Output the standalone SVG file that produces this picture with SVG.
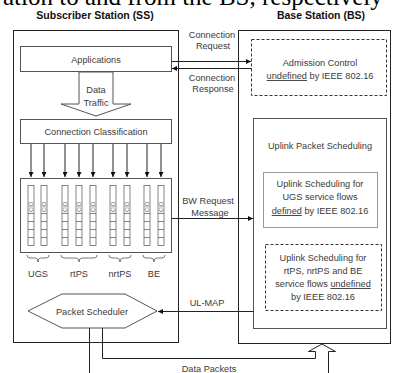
<svg xmlns="http://www.w3.org/2000/svg" width="393" height="373" viewBox="0 0 393 373">
<style>
.t{font-family:"Liberation Sans",Arial,sans-serif;font-size:9.2px;fill:#3a3a3a;text-anchor:middle}
.h{font-family:"Liberation Sans",Arial,sans-serif;font-size:10.5px;font-weight:bold;fill:#111;text-anchor:middle}
.frame{fill:none;stroke:#222;stroke-width:1}
.box{fill:#fff;stroke:#555;stroke-width:1}
.dash{fill:#fff;stroke:#333;stroke-width:1;stroke-dasharray:3,2}
.ln{fill:none;stroke:#222;stroke-width:1}
.q{fill:#fff;stroke:#666;stroke-width:0.8}
.cid{font-family:"Liberation Sans",Arial,sans-serif;font-size:6px;fill:#666}
</style>
<defs>
<marker id="ah" viewBox="0 0 6 6" refX="6" refY="3" markerWidth="5" markerHeight="5" orient="auto" markerUnits="userSpaceOnUse">
<path d="M0,0 L6,3 L0,6 z" fill="#111"/>
</marker>
</defs>
<rect width="393" height="373" fill="#fff"/>
<text x="3" y="5" style="font-family:'Liberation Serif','Times New Roman',serif;font-size:25px;fill:#000">ation to and from the BS, respectively</text>
<text class="h" x="95" y="19">Subscriber Station (SS)</text>
<text class="h" x="321" y="19">Base Station (BS)</text>

<g id="ss">
<rect class="frame" x="13.5" y="30.5" width="165" height="312"/>
</g>
<g id="bs">
<rect class="frame" x="238.5" y="30.5" width="152" height="313"/>
</g>

<g id="applications">
<rect class="box" x="20.5" y="46.5" width="151" height="25"/>
<text class="t" x="96" y="63">Applications</text>
</g>

<g id="data-traffic">
<polygon class="box" points="79,72 113,72 113,104 131,104 96,116 61,104 79,104"/>
<text class="t" x="96" y="93">Data</text>
<text class="t" x="96" y="106">Traffic</text>
</g>

<g id="classification">
<rect class="box" x="20.5" y="119.5" width="151" height="24"/>
<text class="t" x="96" y="135">Connection Classification</text>
</g>

<g id="queues">
<rect class="box" x="20.5" y="178.5" width="151" height="74"/>
<g id="q1"><rect class="q" x="28" y="185.5" width="6" height="60"/></g>
<g id="q2"><rect class="q" x="41" y="185.5" width="6" height="60"/></g>
<g id="q3"><rect class="q" x="62" y="185.5" width="6" height="60"/></g>
<g id="q4"><rect class="q" x="76" y="185.5" width="6" height="60"/></g>
<g id="q5"><rect class="q" x="90" y="185.5" width="6" height="60"/></g>
<g id="q6"><rect class="q" x="110" y="185.5" width="6" height="60"/></g>
<g id="q7"><rect class="q" x="124" y="185.5" width="6" height="60"/></g>
<g id="q8"><rect class="q" x="144" y="185.5" width="6" height="60"/></g>
<g id="q9"><rect class="q" x="158" y="185.5" width="6" height="60"/></g>
<path class="q" fill="none" d="M28,213.5h6M28,221.5h6M28,229.5h6M28,237.5h6 M41,213.5h6M41,221.5h6M41,229.5h6M41,237.5h6 M62,213.5h6M62,221.5h6M62,229.5h6M62,237.5h6 M76,213.5h6M76,221.5h6M76,229.5h6M76,237.5h6 M90,213.5h6M90,221.5h6M90,229.5h6M90,237.5h6 M110,213.5h6M110,221.5h6M110,229.5h6M110,237.5h6 M124,213.5h6M124,221.5h6M124,229.5h6M124,237.5h6 M144,213.5h6M144,221.5h6M144,229.5h6M144,237.5h6 M158,213.5h6M158,221.5h6M158,229.5h6M158,237.5h6"/>
<text class="cid" transform="translate(33.2,212) rotate(-90)">CID</text>
<text class="cid" transform="translate(46.2,212) rotate(-90)">CID</text>
<text class="cid" transform="translate(67.2,212) rotate(-90)">CID</text>
<text class="cid" transform="translate(81.2,212) rotate(-90)">CID</text>
<text class="cid" transform="translate(95.2,212) rotate(-90)">CID</text>
<text class="cid" transform="translate(115.2,212) rotate(-90)">CID</text>
<text class="cid" transform="translate(129.2,212) rotate(-90)">CID</text>
<text class="cid" transform="translate(149.2,212) rotate(-90)">CID</text>
<text class="cid" transform="translate(163.2,212) rotate(-90)">CID</text>
<path fill="none" stroke="#555" stroke-width="0.8" d="M27,255 q0,3 3,3 h5.5 q2.5,0 2.5,4 q0,-4 2.5,-4 h5.5 q3,0 3,-3 M61,255 q0,3 3,3 h12 q3,0 3,4 q0,-4 3,-4 h12 q3,0 3,-3 M109,255 q0,3 3,3 h5 q3,0 3,4 q0,-4 3,-4 h5 q3,0 3,-3 M143,255 q0,3 3,3 h5 q3,0 3,4 q0,-4 3,-4 h5 q3,0 3,-3"/>
<text class="t" x="38" y="277">UGS</text>
<text class="t" x="79" y="277">rtPS</text>
<text class="t" x="120" y="277">nrtPS</text>
<text class="t" x="154" y="277">BE</text>
</g>

<g id="packet-scheduler">
<polygon class="box" points="28,311 62,294 125,294 157,311 125,328 62,328"/>
<text class="t" x="92" y="315">Packet Scheduler</text>
</g>

<g id="admission">
<rect class="dash" x="251.5" y="39.5" width="135" height="56"/>
<text class="t" x="320" y="66">Admission Control</text>
<text class="t" x="320" y="79"><tspan text-decoration="underline">undefined</tspan> by IEEE 802.16</text>
</g>

<g id="uplink">
<rect class="box" x="253.5" y="118.5" width="133" height="210"/>
<text class="t" x="320" y="149">Uplink Packet Scheduling</text>
</g>

<g id="ugs-sched">
<rect fill="#fff" stroke="#999" stroke-width="1" x="263.5" y="172.5" width="114" height="55"/>
<text class="t" x="320" y="187">Uplink Scheduling for</text>
<text class="t" x="320" y="200">UGS service flows</text>
<text class="t" x="320" y="214"><tspan text-decoration="underline">defined</tspan> by IEEE 802.16</text>
</g>

<g id="other-sched">
<rect class="dash" x="265.5" y="244.5" width="116" height="66"/>
<text class="t" x="323" y="261">Uplink Scheduling for</text>
<text class="t" x="323" y="274">rtPS, nrtPS and BE</text>
<text class="t" x="323" y="287">service flows <tspan text-decoration="underline">undefined</tspan></text>
<text class="t" x="323" y="300">by IEEE 802.16</text>
</g>

<g id="connectors">
<line class="ln" x1="171.5" y1="61.5" x2="251" y2="61.5" marker-end="url(#ah)"/>
<line class="ln" x1="251.5" y1="68.5" x2="172" y2="68.5" marker-end="url(#ah)"/>
<text class="t" x="212" y="38">Connection</text>
<text class="t" x="213" y="49">Request</text>
<text class="t" x="212" y="81">Connection</text>
<text class="t" x="213" y="92">Response</text>
<g stroke="#222" stroke-width="1">
<line x1="31" y1="144" x2="31" y2="177" marker-end="url(#ah)"/>
<line x1="44" y1="144" x2="44" y2="177" marker-end="url(#ah)"/>
<line x1="65" y1="144" x2="65" y2="177" marker-end="url(#ah)"/>
<line x1="79" y1="144" x2="79" y2="177" marker-end="url(#ah)"/>
<line x1="93" y1="144" x2="93" y2="177" marker-end="url(#ah)"/>
<line x1="113" y1="144" x2="113" y2="177" marker-end="url(#ah)"/>
<line x1="127" y1="144" x2="127" y2="177" marker-end="url(#ah)"/>
<line x1="147" y1="144" x2="147" y2="177" marker-end="url(#ah)"/>
<line x1="161" y1="144" x2="161" y2="177" marker-end="url(#ah)"/>
</g>
<line class="ln" x1="171.5" y1="218.5" x2="253" y2="218.5" marker-end="url(#ah)"/>
<text class="t" x="208" y="204">BW Request</text>
<text class="t" x="210" y="216">Message</text>
<line class="ln" x1="253.5" y1="311.5" x2="158" y2="311.5" marker-end="url(#ah)"/>
<text class="t" x="207" y="306">UL-MAP</text>
<path class="ln" d="M89.5,328 V373 M102.5,328 V358.5 H315.5 V351.5 H308.5 L322,344 L335.5,351.5 H328.5 V373"/>
<text class="t" x="209" y="372">Data Packets</text>
</g>
</svg>
